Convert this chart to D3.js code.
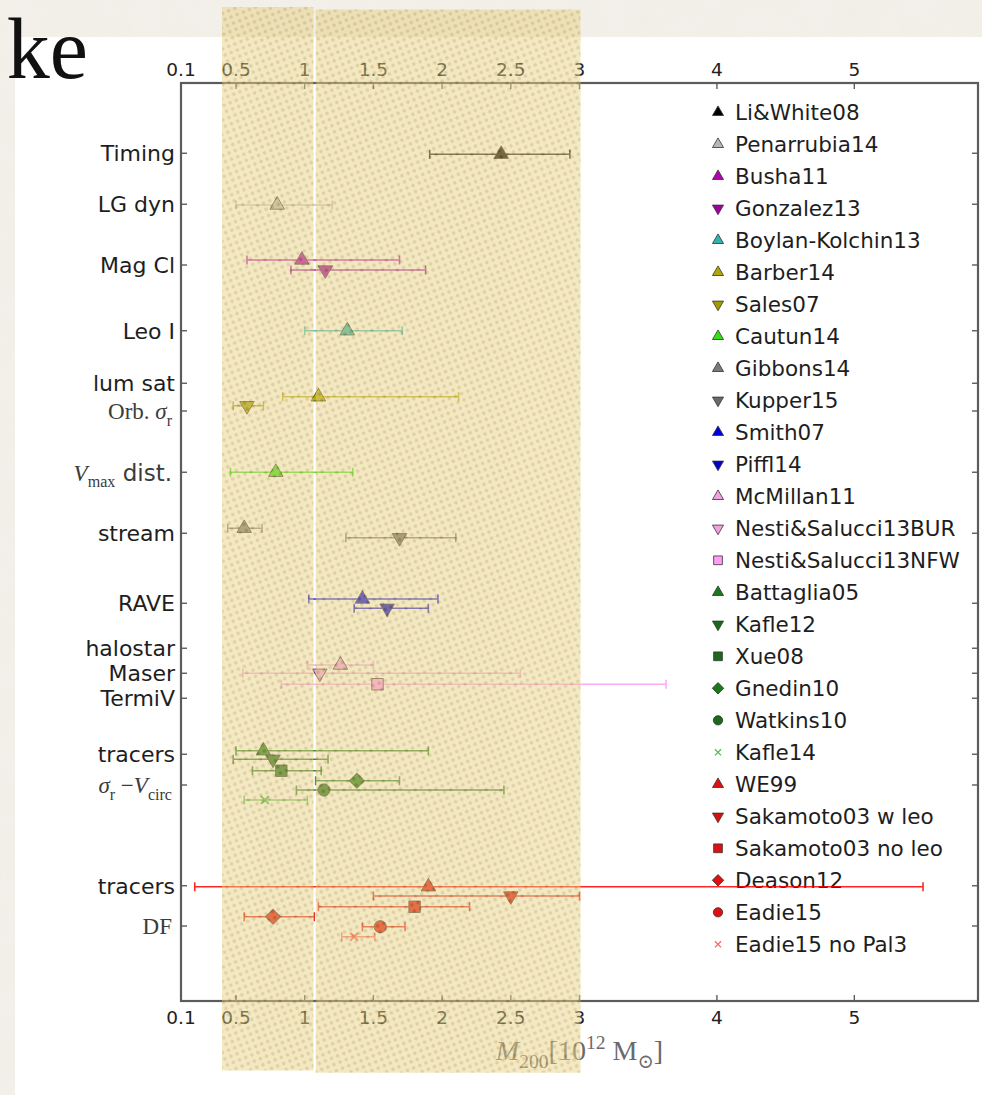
<!DOCTYPE html>
<html>
<head>
<meta charset="utf-8">
<script src="https://cdn.jsdelivr.net/npm/d3@7"></script>
<style>
  html, body { margin: 0; padding: 0; background: #f1eee8; }
  svg { display: block; }
</style>
</head>
<body>
<svg id="chart" width="982" height="1095"></svg>
<script>
// Milky Way halo mass estimates, M200 in units of 10^12 solar masses.
const studies = [
  "Li&White08", "Penarrubia14", "Busha11", "Gonzalez13", "Boylan-Kolchin13",
  "Barber14", "Sales07", "Cautun14", "Gibbons14", "Kupper15", "Smith07",
  "Piffl14", "McMillan11", "Nesti&Salucci13BUR", "Nesti&Salucci13NFW",
  "Battaglia05", "Kafle12", "Xue08", "Gnedin10", "Watkins10", "Kafle14",
  "WE99", "Sakamoto03 w leo", "Sakamoto03 no leo", "Deason12", "Eadie15",
  "Eadie15 no Pal3"
];
const markerKinds = [
  "up", "up", "up", "down", "up",
  "up", "down", "up", "up", "down", "up",
  "down", "up", "down", "square",
  "up", "down", "square", "diamond", "circle", "x",
  "up", "down", "square", "diamond", "circle",
  "x"
];
const colors = [
  "#000000", "#b8b8b8", "#b000b0", "#a000a0", "#2fb3b3",
  "#b0aa00", "#a29a00", "#33e010", "#7a7a7a", "#6a6a6a", "#0000dd",
  "#0000c8", "#f2a0e2", "#f2a0e2", "#ff9cf6",
  "#1a7a1a", "#1a6a1a", "#1a6a1a", "#1a7a1a", "#1a6a1a", "#55bb55",
  "#e01010", "#d81010", "#e01010", "#e01010", "#e01010",
  "#ff6666"
];
const mass     = [2.43, 0.80, 0.98, 1.15, 1.31, 1.10, 0.58, 0.79, 0.56, 1.69, 1.42, 1.60, 1.26, 1.11, 1.53, 0.70, 0.77, 0.83, 1.38, 1.14, 0.71, 1.90, 2.50, 1.80, 0.77, 1.55, 1.36];
const massLow  = [1.91, 0.50, 0.58, 0.90, 1.00, 0.84, 0.48, 0.46, 0.44, 1.30, 1.03, 1.36, 1.02, 0.55, 0.83, 0.50, 0.48, 0.62, 1.08, 0.94, 0.56, 0.20, 1.50, 1.10, 0.56, 1.42, 1.27];
const massHigh = [2.93, 1.20, 1.69, 1.88, 1.71, 2.12, 0.70, 1.35, 0.69, 2.10, 1.97, 1.90, 1.50, 2.57, 3.63, 1.90, 1.17, 1.12, 1.69, 2.45, 1.02, 5.50, 3.00, 2.20, 1.07, 1.73, 1.51];
// vertical position of each estimate (rows, counted downward from the top axis)
const rowPos   = [2.85, 4.88, 7.08, 7.48, 9.91, 12.55, 12.91, 15.57, 17.81, 18.19, 20.64, 21.01, 23.28, 23.61, 24.05, 26.71, 27.05, 27.51, 27.91, 28.28, 28.68, 32.15, 32.52, 32.95, 33.35, 33.75, 34.15];
// bar colour where it differs from the marker colour
const barColors = studies.map((n, i) => n === "WE99" ? "#ff0000" : colors[i]);

// method labels on the y axis; segments: t=text, f=font ("sans"/"serif"), i=italic, s=sub/sup shift
const methodLabels = [
  [{t: "Timing"}],
  [{t: "LG dyn"}],
  [{t: "Mag Cl"}],
  [{t: "Leo I"}],
  [{t: "lum sat"}],
  [{t: "Orb. ", f: "serif"}, {t: "σ", f: "serif", i: true}, {t: "r", f: "serif", s: "sub"}],
  [{t: "V", f: "serif", i: true}, {t: "max", f: "serif", s: "sub"}, {t: " dist."}],
  [{t: "stream"}],
  [{t: "RAVE"}],
  [{t: "halostar"}],
  [{t: "Maser"}],
  [{t: "TermiV"}],
  [{t: "tracers"}],
  [{t: "σ", f: "serif", i: true}, {t: "r", f: "serif", s: "sub"}, {t: "  −", f: "serif"}, {t: "V", f: "serif", i: true}, {t: "circ", f: "serif", s: "sub"}],
  [{t: "tracers"}],
  [{t: "DF", f: "serif"}]
];
const methodPos = [2.81, 4.85, 7.28, 9.91, 12.01, 13.12, 15.57, 18.01, 20.81, 22.61, 23.61, 24.61, 26.85, 28.08, 32.11, 33.72];

const tickValues = [0.1, 0.5, 1, 1.5, 2, 2.5, 3, 4, 5];
const tickLabels = ["0.1", "0.5", "1", "1.5", "2", "2.5", "3", "4", "5"];
const axisTitle = [
  {t: "M", f: "serif", i: true}, {t: "200", f: "serif", s: "sub"},
  {t: "[10", f: "serif"}, {t: "12", f: "serif", s: "sup"},
  {t: " M", f: "serif"}, {t: "⊙", f: "serif", s: "sub"}, {t: "]", f: "serif"}
];

const SANS = "'DejaVu Sans', 'Bitstream Vera Sans', sans-serif";
const SERIF = "'Liberation Serif', 'DejaVu Serif', 'DejaVu Sans', serif";

const W = 982, H = 1095;
const plot = {left: 181, right: 978, top: 83, bottom: 1001};

const svg = d3.select("#chart");
const defs = svg.append("defs");

// paper texture for the slide background
const paper = defs.append("filter").attr("id", "paper").attr("x", 0).attr("y", 0).attr("width", 1).attr("height", 1);
paper.append("feTurbulence").attr("type", "fractalNoise").attr("baseFrequency", 0.03).attr("numOctaves", 3).attr("seed", 4).attr("result", "noise");
paper.append("feColorMatrix").attr("in", "noise").attr("type", "matrix")
  .attr("values", "0 0 0 0 0.82  0 0 0 0 0.78  0 0 0 0 0.72  0 0 0 0.9 -0.25");
paper.append("feComposite").attr("in2", "SourceGraphic").attr("operator", "in");

// halftone dots for the highlight band
const dots = defs.append("pattern").attr("id", "dots")
  .attr("patternUnits", "userSpaceOnUse").attr("width", 6.6).attr("height", 6.6)
  .attr("patternTransform", "rotate(-22)");
dots.append("rect").attr("width", 6.6).attr("height", 6.6).attr("fill", "#e9d283");
dots.append("circle").attr("cx", 3.3).attr("cy", 3.3).attr("r", 1.8).attr("fill", "#a08338").attr("opacity", 0.6);

svg.append("rect").attr("width", W).attr("height", H).attr("fill", "#f3f0ea");
svg.append("rect").attr("width", W).attr("height", H).attr("fill", "#d8d0c2").attr("filter", "url(#paper)").attr("opacity", 0.3);

// white slide panel holding the figure
svg.append("rect").attr("x", 15).attr("y", 37).attr("width", W - 15).attr("height", H - 37).attr("fill", "#ffffff");

// partial slide heading
svg.append("text").attr("x", 88).attr("y", 78)
  .attr("text-anchor", "end")
  .attr("font-family", SERIF).attr("font-size", 86).attr("fill", "#111")
  .text("ke");

const x = d3.scaleLinear().domain([0.1, 5.9]).range([plot.left, plot.right]);
const y = d3.scaleLinear().domain([0, 36.72]).range([plot.top, plot.bottom]);

function shapePath(kind, size) {
  if (kind === "up" || kind === "down") return d3.symbol(d3.symbolTriangle, size)();
  if (kind === "square" || kind === "diamond") return d3.symbol(d3.symbolSquare, size)();
  if (kind === "circle") return d3.symbol(d3.symbolCircle, size)();
  const s = Math.sqrt(size) / 2;
  return `M${-s},${-s}L${s},${s}M${-s},${s}L${s},${-s}`;
}
function shapeRotate(kind) {
  if (kind === "down") return " rotate(180)";
  if (kind === "diamond") return " rotate(45)";
  return "";
}
function shapeSize(kind, scale) {
  const base = {up: 92, down: 92, square: 132, diamond: 112, circle: 118, x: 64}[kind];
  return base * scale;
}

// writes segments as tspans; sub/superscripts shift relative to the baseline
function richText(sel, segs, size) {
  let shift = 0;
  segs.forEach(seg => {
    const target = seg.s === "sub" ? size * 0.3 : seg.s === "sup" ? -size * 0.38 : 0;
    sel.append("tspan")
      .attr("dy", target - shift)
      .attr("font-family", seg.f === "serif" ? SERIF : SANS)
      .attr("font-style", seg.i ? "italic" : "normal")
      .attr("font-size", seg.s ? size * 0.7 : size)
      .text(seg.t);
    shift = target;
  });
}

// legend (drawn first: the data sits on top of it)
const legend = svg.append("g");
studies.forEach((name, i) => {
  const ly = 112.3 + i * 32.0;
  const k = markerKinds[i];
  legend.append("path")
    .attr("d", shapePath(k, shapeSize(k, 0.58)))
    .attr("transform", `translate(718,${ly})` + shapeRotate(k))
    .attr("fill", k === "x" ? "none" : colors[i])
    .attr("stroke", k === "x" ? colors[i] : "#333")
    .attr("stroke-width", k === "x" ? 1.3 : 0.8);
  legend.append("text").attr("x", 735).attr("y", ly).attr("dy", "0.36em")
    .attr("font-family", SANS).attr("font-size", 21.5).attr("fill", "#1e1e1e")
    .text(name);
});

// axes frame and ticks (ticks point inward, mirrored on all sides)
const axes = svg.append("g").attr("stroke", "#5c5c5c");
axes.append("rect")
  .attr("x", plot.left).attr("y", plot.top)
  .attr("width", plot.right - plot.left).attr("height", plot.bottom - plot.top)
  .attr("fill", "none").attr("stroke-width", 2.2);
tickValues.forEach(v => {
  axes.append("line").attr("x1", x(v)).attr("x2", x(v)).attr("y1", plot.top).attr("y2", plot.top + 6).attr("stroke-width", 1.4);
  axes.append("line").attr("x1", x(v)).attr("x2", x(v)).attr("y1", plot.bottom).attr("y2", plot.bottom - 6).attr("stroke-width", 1.4);
});
methodPos.forEach(p => {
  axes.append("line").attr("x1", plot.left).attr("x2", plot.left + 6).attr("y1", y(p)).attr("y2", y(p)).attr("stroke-width", 1.4);
  axes.append("line").attr("x1", plot.right).attr("x2", plot.right - 6).attr("y1", y(p)).attr("y2", y(p)).attr("stroke-width", 1.4);
});

const tickText = svg.append("g").attr("font-family", SANS).attr("font-size", 18.5).attr("fill", "#222").attr("text-anchor", "middle");
tickValues.forEach((v, i) => {
  tickText.append("text").attr("x", x(v)).attr("y", plot.top - 7).text(tickLabels[i]);
  tickText.append("text").attr("x", x(v)).attr("y", plot.bottom + 23).text(tickLabels[i]);
});

// method labels
methodLabels.forEach((segs, i) => {
  const serifStart = segs[0].f === "serif";
  const size = serifStart ? 23 : 22;
  const t = svg.append("text")
    .attr("x", serifStart ? plot.left - 9 : plot.left - 6)
    .attr("y", y(methodPos[i]) + size * 0.36)
    .attr("text-anchor", "end")
    .attr("fill", serifStart ? "#3c3c3c" : "#1e1e1e");
  richText(t, segs, size);
});

// x-axis title
const title = svg.append("text")
  .attr("x", (plot.left + plot.right) / 2).attr("y", 1060)
  .attr("text-anchor", "middle").attr("fill", "#6a6a6a");
richText(title, axisTitle, 28);

// error bars and markers
const data = studies.map((name, i) => ({
  name, kind: markerKinds[i], color: colors[i], bar: barColors[i],
  m: mass[i], lo: massLow[i], hi: massHigh[i], row: rowPos[i]
}));
const bars = svg.append("g").selectAll("g").data(data).join("g")
  .attr("stroke", d => d.bar).attr("stroke-width", 1.6).attr("opacity", 0.85);
bars.append("line").attr("x1", d => x(d.lo)).attr("x2", d => x(d.hi)).attr("y1", d => y(d.row)).attr("y2", d => y(d.row));
bars.append("line").attr("x1", d => x(d.lo)).attr("x2", d => x(d.lo)).attr("y1", d => y(d.row) - 4.5).attr("y2", d => y(d.row) + 4.5);
bars.append("line").attr("x1", d => x(d.hi)).attr("x2", d => x(d.hi)).attr("y1", d => y(d.row) - 4.5).attr("y2", d => y(d.row) + 4.5);

svg.append("g").selectAll("path").data(data).join("path")
  .attr("d", d => shapePath(d.kind, shapeSize(d.kind, 1)))
  .attr("transform", d => `translate(${x(d.m)},${y(d.row)})` + shapeRotate(d.kind))
  .attr("fill", d => d.kind === "x" ? "none" : d.color)
  .attr("stroke", d => d.kind === "x" ? d.color : "#2a2a2a")
  .attr("stroke-width", d => d.kind === "x" ? 2 : 1)
  .attr("stroke-opacity", d => d.kind === "x" ? 1 : 0.8);

// translucent highlight band laid over the figure, in two pieces
const band = svg.append("g").attr("opacity", 0.5);
band.append("rect").attr("x", 222).attr("y", 7).attr("width", 91.5).attr("height", 1063.5).attr("fill", "url(#dots)");
band.append("rect").attr("x", 315.7).attr("y", 9.5).attr("width", 264.8).attr("height", 1063.2).attr("fill", "url(#dots)");
</script>
</body>
</html>
